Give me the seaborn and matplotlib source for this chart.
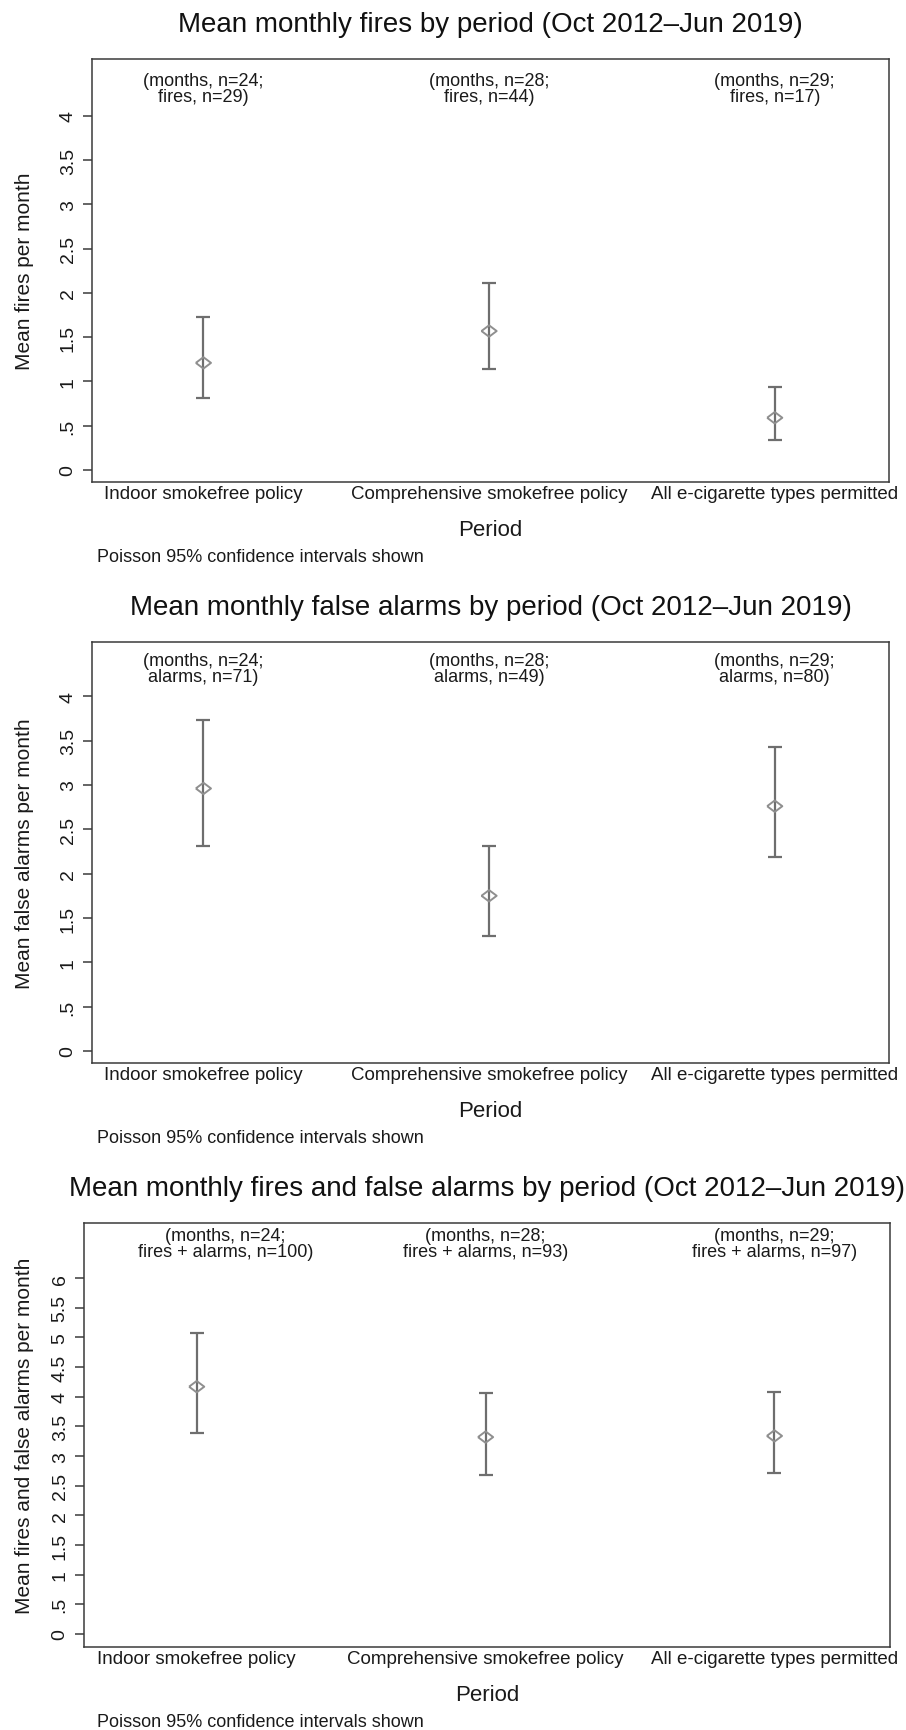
import numpy as np
import pandas as pd
import matplotlib
matplotlib.use("Agg")
import matplotlib.pyplot as plt
import seaborn as sns

# =========================
# DATA
# =========================
periods = ["Indoor smokefree policy", "Comprehensive smokefree policy", "All e-cigarette types permitted"]
n_months = [24, 28, 29]

n_fires = [29, 44, 17]
fires_mean = [1.21, 1.57, 0.59]
fires_lo = [0.81, 1.14, 0.34]
fires_hi = [1.73, 2.11, 0.94]

n_alarms = [71, 49, 80]
alarms_mean = [2.96, 1.75, 2.76]
alarms_lo = [2.31, 1.30, 2.19]
alarms_hi = [3.73, 2.31, 3.43]

n_total = [100, 93, 97]
total_mean = [4.17, 3.32, 3.34]
total_lo = [3.39, 2.68, 2.71]
total_hi = [5.07, 4.07, 4.08]

note = "Poisson 95% confidence intervals shown"

# =========================
# STYLE
# =========================
sns.set_theme(style="ticks")
plt.rcParams['font.family'] = ['Liberation Sans', 'DejaVu Sans']

W, H = 906, 1731
fig = plt.figure(figsize=(W / 100, H / 100), dpi=100)

frame = "#3a3a3a"
bar_col = "#6e6e6e"
mark_col = "#8f8f8f"
diamond = [(-1, 0), (0, 0.75), (1, 0), (0, -0.75), (-1, 0)]

panels = [
    dict(title="Mean monthly fires by period (Oct 2012\u2013Jun 2019)",
         ylabel="Mean fires per month", what="fires",
         mean=fires_mean, lo=fires_lo, hi=fires_hi, counts=n_fires,
         box=(92, 60, 889, 483), ylim=(-0.136, 4.644), ytop=4,
         ann_y=4.31, ann_x=[0, 1, 2]),
    dict(title="Mean monthly false alarms by period (Oct 2012\u2013Jun 2019)",
         ylabel="Mean false alarms per month", what="alarms",
         mean=alarms_mean, lo=alarms_lo, hi=alarms_hi, counts=n_alarms,
         box=(92, 643, 889, 1064), ylim=(-0.135, 4.611), ytop=4,
         ann_y=4.31, ann_x=[0, 1, 2]),
    dict(title="Mean monthly fires and false alarms by period (Oct 2012\u2013Jun 2019)",
         ylabel="Mean fires and false alarms per month", what="fires + alarms",
         mean=total_mean, lo=total_lo, hi=total_hi, counts=n_total,
         box=(84, 1224, 890, 1648), ylim=(-0.219, 6.93), ytop=6,
         ann_y=6.59, ann_x=[0.1, 1, 2]),
]


def fmt_tick(v):
    lab = f"{v:g}"
    if lab.startswith("0."):
        lab = lab[1:]
    return lab


for p in panels:
    l, t, r, b = p["box"]
    w, h = r - l, b - t
    ax = fig.add_axes([l / W, 1 - b / H, w / W, h / H])

    df = pd.DataFrame({"pos": np.arange(len(periods)), "period": periods,
                       "mean": p["mean"], "lo": p["lo"], "hi": p["hi"]})

    # confidence intervals
    ax.errorbar(df["pos"], df["mean"],
                yerr=[df["mean"] - df["lo"], df["hi"] - df["mean"]],
                fmt="none", ecolor=bar_col, elinewidth=1.6,
                capsize=4.7, capthick=1.6, zorder=2)

    # means
    sns.scatterplot(data=df, x="pos", y="mean", marker=diamond, s=120,
                    facecolor="none", edgecolor=mark_col, linewidth=1.4,
                    ax=ax, zorder=3, legend=False)

    # counts text
    for i in range(len(periods)):
        ax.text(p["ann_x"][i], p["ann_y"],
                f"(months, n={n_months[i]};\n{p['what']}, n={p['counts'][i]})",
                ha="center", va="center", fontsize=13, linespacing=0.9,
                color="#1a1a1a")

    ax.set_xlim(-0.39, 2.40)
    ax.set_ylim(*p["ylim"])

    yt = np.arange(0, p["ytop"] + 0.01, 0.5)
    ax.set_yticks(yt)
    ax.set_yticklabels([fmt_tick(v) for v in yt])
    plt.setp(ax.get_yticklabels(), rotation=90, va="center")
    ax.set_xticks(df["pos"])
    ax.set_xticklabels(periods)

    ax.tick_params(axis="y", length=6.5, width=1.1, color=frame, pad=4.5,
                   labelsize=14, labelcolor="#1a1a1a")
    ax.tick_params(axis="x", length=0, pad=2, labelsize=13.5, labelcolor="#1a1a1a")

    for s in ax.spines.values():
        s.set_visible(True)
        s.set_color(frame)
        s.set_linewidth(1.1)

    ax.set_title(p["title"], fontsize=20, pad=20, color="#111111")
    ax.set_xlabel("Period", fontsize=16, color="#1a1a1a")
    ax.xaxis.set_label_coords(0.5, -37 / h)
    ax.set_ylabel(p["ylabel"], fontsize=15, color="#1a1a1a")
    ax.yaxis.set_label_coords((34 - l) / w, 0.5)

    ax.text((97 - l) / w, -75 / h, note, transform=ax.transAxes,
            ha="left", va="center", fontsize=13, color="#1a1a1a")

fig.savefig("out.png", dpi=100)
